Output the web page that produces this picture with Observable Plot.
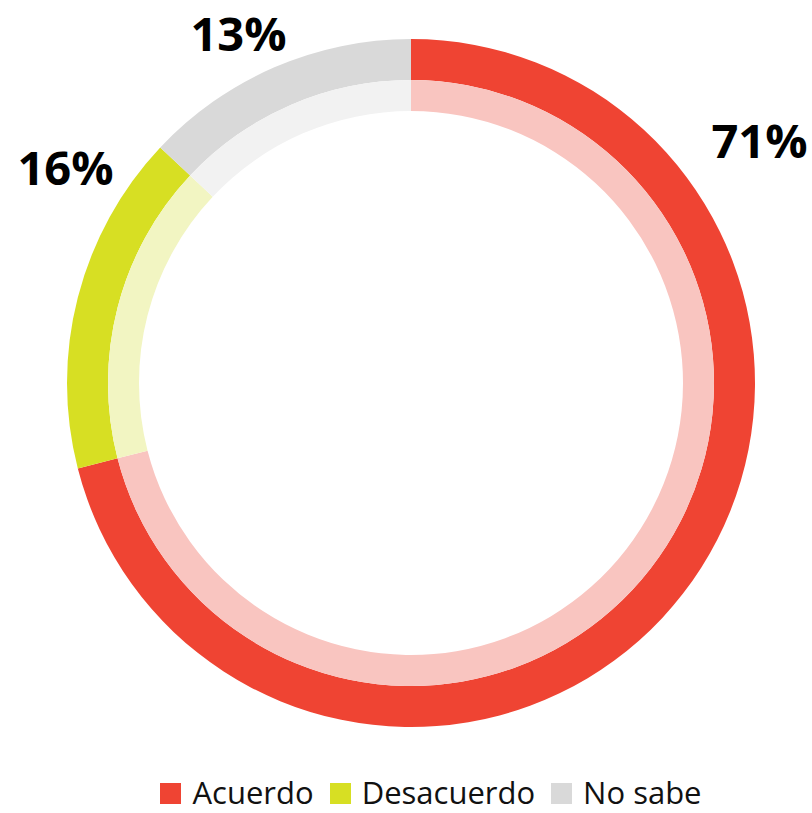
<!DOCTYPE html>
<html>
<head>
<meta charset="utf-8">
<script src="https://cdn.jsdelivr.net/npm/d3@7"></script>
<script src="https://cdn.jsdelivr.net/npm/@observablehq/plot@0.6"></script>
<style>
  html, body { margin: 0; padding: 0; background: #fff; }
  #chart { width: 812px; }
  .legend { display: flex; justify-content: center; align-items: flex-end; height: 45px;
            font-family: "Open Sans", sans-serif; font-size: 31px; line-height: normal; color: #111; margin-left: 50px; }
  .legend .item { display: flex; align-items: center; margin: 0 8px; }
  .legend .sw { width: 21px; height: 21px; margin-right: 11px; margin-top: 3px; }
</style>
</head>
<body>
<div id="chart"></div>
<script>
// Data
const categories = ["Acuerdo", "Desacuerdo", "No sabe"];
const values = [71, 16, 13];
const labels = ["71%", "16%", "13%"];
const colors = ["#EF4433", "#D7DF23", "#D9D9D9"];
const lightColors = ["#F9C5C0", "#F2F5C2", "#F2F2F2"];

const data = categories.map((c, i) => ({category: c, value: values[i], label: labels[i], color: colors[i], light: lightColors[i]}));

// Layout (unit circle coordinates, radius 1 = outer edge)
const W = 812, H = 768, R = 344, CX = 411, CY = 383;
const labelPos = {
  "Acuerdo":    {x: (759 - CX) / R, y: (CY - 157) / R},
  "Desacuerdo": {x: (65 - CX) / R,  y: (CY - 184) / R},
  "No sabe":    {x: (238 - CX) / R, y: (CY - 50) / R}
};
const labelData = data.map(d => ({...d, ...labelPos[d.category]}));

function donut(index, scales, values, dimensions, context) {
  const cx = scales.x(0), cy = scales.y(0);
  const r = scales.x(1) - scales.x(0);
  const pie = d3.pie().value(d => d.value).sort(null)(data);
  const outer = d3.arc().innerRadius(r * 303 / 344).outerRadius(r);
  const inner = d3.arc().innerRadius(r * 272 / 344).outerRadius(r * 303 / 344);
  const g = d3.create("svg:g").attr("transform", `translate(${cx},${cy})`);
  g.selectAll("path.o").data(pie).join("path").attr("class", "o")
    .attr("d", outer).attr("fill", d => d.data.color);
  g.selectAll("path.i").data(pie).join("path").attr("class", "i")
    .attr("d", inner).attr("fill", d => d.data.light);
  return g.node();
}

const plot = Plot.plot({
  width: W, height: H,
  margin: 0,
  x: {domain: [-CX / R, (W - CX) / R], range: [0, W], axis: null},
  y: {domain: [CY / R, (CY - H) / R], range: [0, H], axis: null},
  style: {background: "#fff", overflow: "visible"},
  marks: [
    donut,
    Plot.text(labelData, {
      x: "x", y: "y", text: "label", lineAnchor: "bottom", textAnchor: "middle",
      fontSize: 47, fontWeight: "bold", fontFamily: "Open Sans", fill: "#000"
    })
  ]
});
document.getElementById("chart").appendChild(plot);

const legend = d3.select("#chart").append("div").attr("class", "legend");
const items = legend.selectAll(".item").data(data).join("div").attr("class", "item");
items.append("div").attr("class", "sw").style("background", d => d.color);
items.append("span").text(d => d.category);
</script>
</body>
</html>
